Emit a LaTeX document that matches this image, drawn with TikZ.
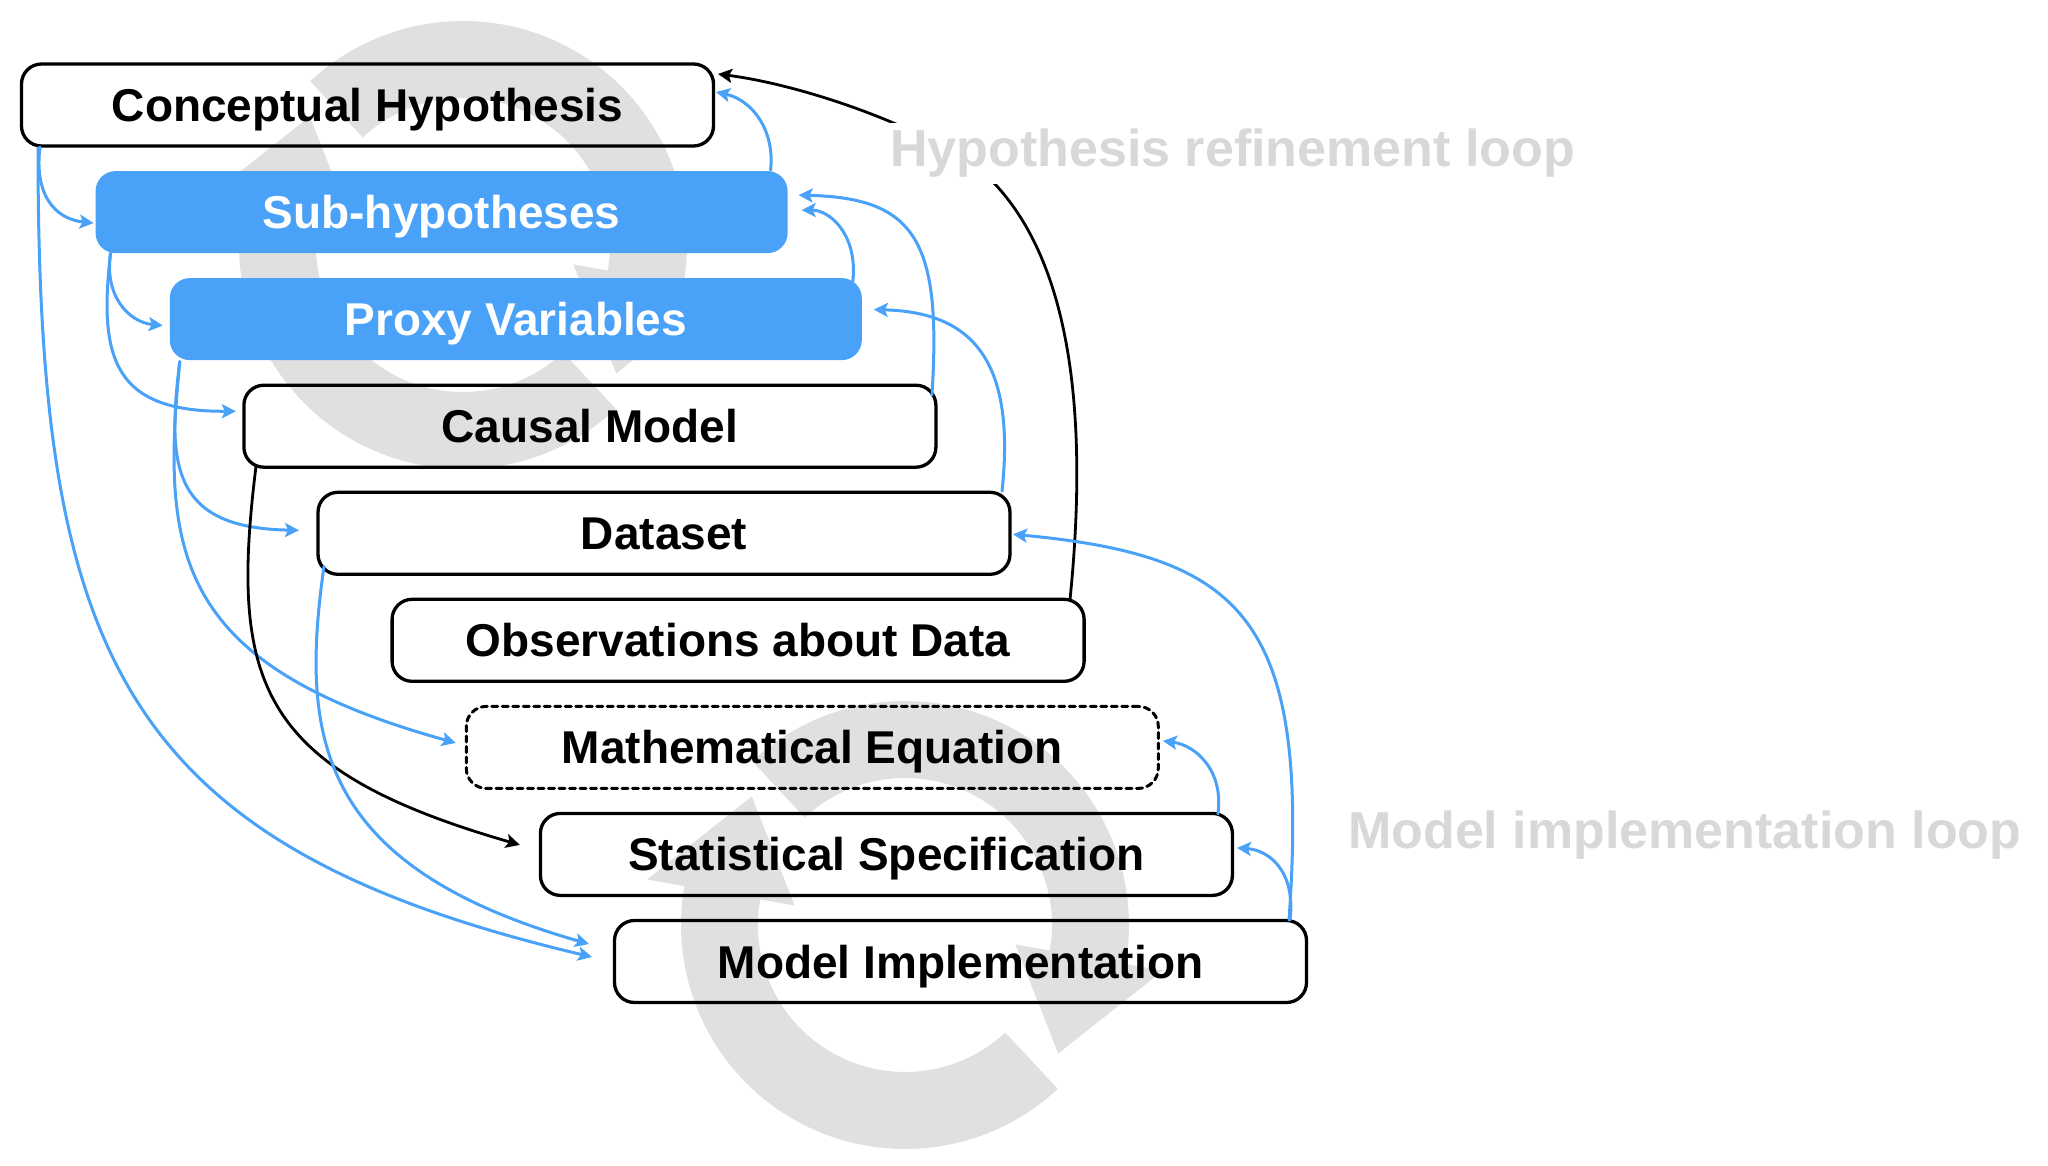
\documentclass[tikz,border=0pt]{standalone}
\usepackage{fontspec}
\setmainfont{Liberation Sans}
\usetikzlibrary{arrows.meta}
\definecolor{boxblue}{RGB}{73,161,248}
\definecolor{logogray}{RGB}{224,224,224}
\definecolor{labelgray}{RGB}{216,216,216}
\newcommand\mylogopiece{%
  \fill[logogray] (-47:224) arc[start angle=-47,end angle=-190,radius=224]
    -- (170:262) -- (140:200) -- (170:112) -- (170:147)
    arc[start angle=170,end angle=313,radius=147] -- cycle;}
\tikzset{
  box/.style={minimum width=692pt, minimum height=82pt, inner sep=0pt,
    rounded corners=20pt, text height=33pt, text depth=0pt,
    font=\bfseries\fontsize{46}{50}\selectfont},
  wbox/.style={box, draw=black, line width=3.3pt},
  bbox/.style={box, fill=boxblue, text=white},
  dbox/.style={box, draw=black, line width=3pt, dash pattern=on 6pt off 4.5pt},
  tipstyle/.style={-{Stealth[length=14pt,width=14pt,inset=3pt]}},
  bline/.style={draw=boxblue, line width=3pt, tipstyle},
  kline/.style={draw=black, line width=2.8pt, tipstyle},
  looplabel/.style={font=\bfseries\fontsize{52}{56}\selectfont, text=labelgray,
    fill=white, inner sep=6pt, anchor=base west}
}
\begin{document}
\begin{tikzpicture}[x=1pt, y=-1pt, line join=round, line cap=round]
\useasboundingbox (0,0) rectangle (2048,1166);

% background loop symbols
\begin{scope}[shift={(463,245)}, yscale=-1]
  \mylogopiece
  \begin{scope}[rotate=180]\mylogopiece\end{scope}
\end{scope}
\begin{scope}[shift={(905,925)}, yscale=-1]
  \mylogopiece
  \begin{scope}[rotate=180]\mylogopiece\end{scope}
\end{scope}

% boxes
\node[wbox] (ch) at (367.5,105) {Conceptual Hypothesis};
\node[bbox] (sh) at (441.6,212.1) {Sub-hypotheses};
\node[bbox] (pv) at (515.8,319.1) {Proxy Variables};
\node[wbox] (cm) at (589.9,426.2) {Causal Model};
\node[wbox] (ds) at (664.0,533.3) {Dataset};
\node[wbox] (ob) at (738.1,640.3) {Observations about Data};
\node[dbox] (me) at (812.3,747.4) {Mathematical Equation};
\node[wbox] (ss) at (886.4,854.4) {Statistical Specification};
\node[wbox] (mi) at (960.5,961.5) {Model Implementation};

% left-side connectors
\draw[bline] ([shift={(-327.5,42)}]ch.center) .. controls (34,195) and (55,219) .. ([shift={(-348,11)}]sh.center);
\draw[bline] ([shift={(-329.5,43)}]ch.center) .. controls (38,653) and (118,845) .. ([shift={(-368.5,-4.5)}]mi.center);
\draw[bline] ([shift={(-331,41)}]sh.center) .. controls (104,295) and (128,322) .. ([shift={(-353,6.5)}]pv.center);
\draw[bline] ([shift={(-331,41)}]sh.center) .. controls (98,360) and (115,412) .. ([shift={(-354,-15)}]cm.center);
\draw[bline] ([shift={(-336,42.5)}]pv.center) .. controls (166,470) and (175,528) .. ([shift={(-365,-3)}]ds.center);
\draw[bline] ([shift={(-336,42.5)}]pv.center) .. controls (161,553) and (174,665) .. ([shift={(-356.5,-4.5)}]me.center);
\draw[kline] ([shift={(-334,41)}]cm.center) .. controls (229,685) and (260,770) .. ([shift={(-366.5,-9.5)}]ss.center);
\draw[bline] ([shift={(-340,33)}]ds.center) .. controls (300,736) and (316,866) .. ([shift={(-371.5,-17.5)}]mi.center);

% right-side connectors
\draw[bline] ([shift={(329,-42)}]sh.center) .. controls (775,130) and (752,100) .. ([shift={(348.5,-13)}]ch.center);
\draw[kline] ([shift={(332,-41.5)}]ob.center) .. controls (1090,400) and (1066,258) .. (993,182)
   .. controls (950,138) and (817,87) .. ([shift={(350.5,-31)}]ch.center);
\draw[bline] ([shift={(342,-31)}]cm.center) .. controls (942,240) and (915,198) .. ([shift={(357,-17)}]sh.center);
\draw[bline] ([shift={(337,-37.5)}]pv.center) .. controls (858,235) and (830,210) .. ([shift={(360,-2)}]sh.center);
\draw[bline] ([shift={(338,-42)}]ds.center) .. controls (1016,360) and (972,312) .. ([shift={(358,-9.5)}]pv.center);
\draw[bline] ([shift={(328.5,-41.5)}]mi.center) .. controls (1310,620) and (1245,556) .. ([shift={(349,1)}]ds.center);
\draw[bline] ([shift={(331.5,-40.5)}]ss.center) .. controls (1224,770) and (1195,745) .. ([shift={(350.5,-6.5)}]me.center);
\draw[bline] ([shift={(329.5,-41.5)}]mi.center) .. controls (1296,870) and (1268,850) .. ([shift={(350.5,-6.5)}]ss.center);

% loop labels
\node[looplabel] (hl) at (884,167) {Hypothesis refinement loop};
\node[looplabel] (ml) at (1342,848) {Model implementation loop};
\end{tikzpicture}
\end{document}
